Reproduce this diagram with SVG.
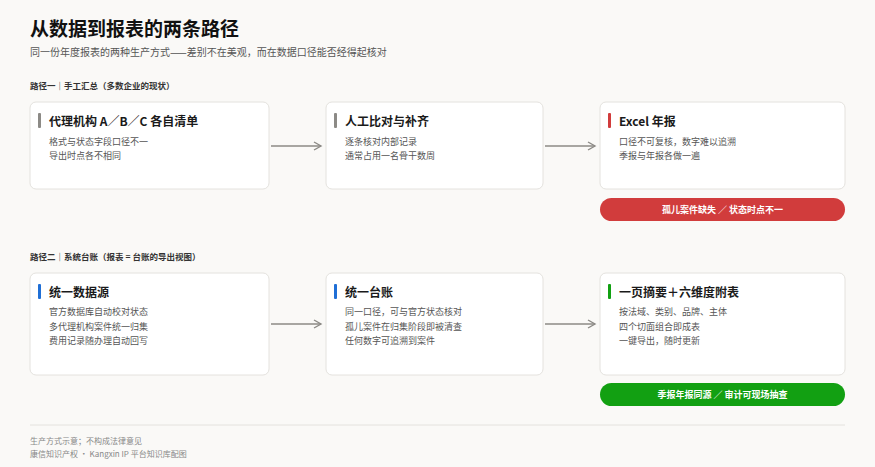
<svg xmlns="http://www.w3.org/2000/svg" width="875" height="467" viewBox="0 0 875 467">
<style>
text{font-family:"Noto Sans CJK SC","Noto Sans",sans-serif}
.card{fill:#fff;stroke:#e4e2de;stroke-width:1}
.h{font-size:12px;font-weight:bold;fill:#1a1a1a}
.b{font-size:9px;fill:#555}
.sec{font-size:8.5px;font-weight:bold;fill:#333}
.pill{font-size:9px;font-weight:bold;fill:#fff}
.conn{stroke:#8c8a86;stroke-width:1.5;fill:none}
</style>
<defs><marker id="ar" markerWidth="10" markerHeight="10" refX="8" refY="5" orient="auto" markerUnits="userSpaceOnUse"><path d="M1,1 L8,5 L1,9" fill="none" stroke="#8c8a86" stroke-width="1.4"/></marker></defs>
<rect width="875" height="467" fill="#faf9f7"/>
<text x="30" y="36" font-size="19" font-weight="bold" fill="#111">从数据到报表的两条路径</text>
<text x="30" y="56" font-size="10" fill="#555">同一份年度报表的两种生产方式——差别不在美观，而在数据口径能否经得起核对</text>
<text class="sec" x="30" y="89">路径一｜手工汇总（多数企业的现状）</text>
<text class="sec" x="30" y="260">路径二｜系统台账（报表 = 台账的导出视图）</text>
<g id="connectors">
<line class="conn" x1="271" y1="146" x2="321" y2="146" marker-end="url(#ar)"/>
<line class="conn" x1="545" y1="146" x2="595" y2="146" marker-end="url(#ar)"/>
<line class="conn" x1="271" y1="324" x2="321" y2="324" marker-end="url(#ar)"/>
<line class="conn" x1="545" y1="324" x2="595" y2="324" marker-end="url(#ar)"/>
</g>
<g id="n1"><rect class="card" x="30" y="102" width="239" height="87" rx="6"/><rect x="38" y="113" width="3" height="15" fill="#8c8a86" rx="1"/><text class="h" x="49" y="126">代理机构 A／B／C 各自清单</text><text class="b" x="49" y="145">格式与状态字段口径不一</text><text class="b" x="49" y="159">导出时点各不相同</text></g>
<g id="n2"><rect class="card" x="326" y="102" width="217" height="87" rx="6"/><rect x="334" y="113" width="3" height="15" fill="#8c8a86" rx="1"/><text class="h" x="345" y="126">人工比对与补齐</text><text class="b" x="345" y="145">逐条核对内部记录</text><text class="b" x="345" y="159">通常占用一名骨干数周</text></g>
<g id="n3"><rect class="card" x="600" y="102" width="245" height="87" rx="6"/><rect x="608" y="113" width="3" height="15" fill="#d13c3c" rx="1"/><text class="h" x="619" y="126">Excel 年报</text><text class="b" x="619" y="145">口径不可复核，数字难以追溯</text><text class="b" x="619" y="159">季报与年报各做一遍</text></g>
<g id="p1"><rect x="600" y="198" width="245" height="23" rx="11.5" fill="#d13c3c"/><text class="pill" x="722.5" y="213" text-anchor="middle">孤儿案件缺失 ／ 状态时点不一</text></g>
<g id="n4"><rect class="card" x="30" y="273" width="239" height="102" rx="6"/><rect x="38" y="284" width="3" height="15" fill="#1f6fd6" rx="1"/><text class="h" x="49" y="297">统一数据源</text><text class="b" x="49" y="315">官方数据库自动校对状态</text><text class="b" x="49" y="330">多代理机构案件统一归集</text><text class="b" x="49" y="344">费用记录随办理自动回写</text></g>
<g id="n5"><rect class="card" x="326" y="273" width="217" height="102" rx="6"/><rect x="334" y="284" width="3" height="15" fill="#1f6fd6" rx="1"/><text class="h" x="345" y="297">统一台账</text><text class="b" x="345" y="315">同一口径，可与官方状态核对</text><text class="b" x="345" y="330">孤儿案件在归集阶段即被清查</text><text class="b" x="345" y="344">任何数字可追溯到案件</text></g>
<g id="n6"><rect class="card" x="600" y="273" width="245" height="102" rx="6"/><rect x="608" y="284" width="3" height="15" fill="#12a012" rx="1"/><text class="h" x="619" y="297">一页摘要＋六维度附表</text><text class="b" x="619" y="315">按法域、类别、品牌、主体</text><text class="b" x="619" y="330">四个切面组合即成表</text><text class="b" x="619" y="344">一键导出，随时更新</text></g>
<g id="p2"><rect x="600" y="383" width="245" height="23" rx="11.5" fill="#12a012"/><text class="pill" x="722.5" y="398" text-anchor="middle">季报年报同源 ／ 审计可现场抽查</text></g>
<line x1="30" y1="425" x2="845" y2="425" stroke="#e4e2de" stroke-width="1"/>
<text x="30" y="444" font-size="8" fill="#888">生产方式示意；不构成法律意见</text>
<text x="30" y="457" font-size="8" fill="#888">康信知识产权 · Kangxin IP 平台知识库配图</text>
</svg>
